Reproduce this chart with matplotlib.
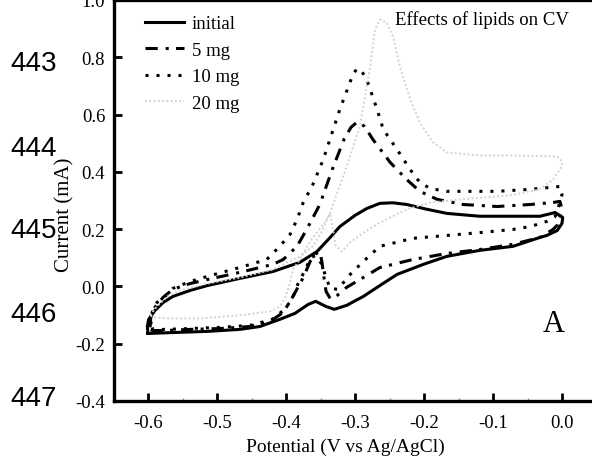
import matplotlib
matplotlib.use("Agg")
import matplotlib.pyplot as plt
from matplotlib.ticker import MultipleLocator

# ---------------- data ----------------
initial_potential = [-0.600, -0.601, -0.599, -0.590, -0.578, -0.564, -0.539, -0.514, -0.467, -0.419,
                     -0.380, -0.355, -0.336, -0.322, -0.300, -0.283, -0.264, -0.245, -0.225, -0.197,
                     -0.167, -0.119, -0.071, -0.032, -0.010, 0.001, 0.000, -0.007,
                     -0.022, -0.032, -0.071, -0.119, -0.167, -0.201, -0.239, -0.264, -0.288, -0.312,
                     -0.330, -0.342, -0.357, -0.368, -0.387, -0.409, -0.438, -0.467, -0.514, -0.564,
                     -0.597, -0.600]
initial_current = [-0.164, -0.140, -0.115, -0.084, -0.056, -0.035, -0.014, 0.003, 0.028, 0.052,
                   0.084, 0.122, 0.171, 0.209, 0.248, 0.272, 0.290, 0.292, 0.286, 0.270,
                   0.255, 0.245, 0.245, 0.245, 0.258, 0.241, 0.220, 0.195,
                   0.178, 0.171, 0.140, 0.126, 0.105, 0.077, 0.042, 0.003, -0.035, -0.066,
                   -0.080, -0.070, -0.052, -0.063, -0.094, -0.115, -0.140, -0.150, -0.157, -0.161,
                   -0.164, -0.164]

mg5_potential = [-0.597, -0.596, -0.590, -0.578, -0.564, -0.539, -0.514, -0.467, -0.419, -0.404,
                 -0.384, -0.370, -0.351, -0.333, -0.316, -0.306, -0.296, -0.286, -0.274, -0.249,
                 -0.225, -0.206, -0.181, -0.143, -0.094, -0.046, -0.013, -0.003, -0.001, -0.003,
                 -0.006, -0.013, -0.032, -0.071, -0.119, -0.167, -0.216, -0.264, -0.288, -0.312,
                 -0.322, -0.329, -0.336, -0.342, -0.345, -0.348, -0.351, -0.358, -0.365, -0.375,
                 -0.390, -0.404, -0.423, -0.452, -0.496, -0.539, -0.575, -0.594, -0.597]
mg5_current = [-0.143, -0.108, -0.073, -0.038, -0.010, 0.010, 0.024, 0.049, 0.077, 0.094,
               0.140, 0.199, 0.286, 0.408, 0.513, 0.555, 0.576, 0.558, 0.513, 0.433,
               0.373, 0.332, 0.304, 0.286, 0.279, 0.286, 0.293, 0.297, 0.279, 0.244,
               0.216, 0.199, 0.171, 0.147, 0.129, 0.115, 0.094, 0.066, 0.031, -0.003,
               -0.024, -0.038, -0.042, -0.017, 0.031, 0.087, 0.122, 0.112, 0.087, 0.031,
               -0.035, -0.091, -0.122, -0.140, -0.147, -0.150, -0.154, -0.154, -0.143]

mg10_potential = [-0.596, -0.594, -0.587, -0.572, -0.564, -0.539, -0.514, -0.467, -0.428, -0.409,
                  -0.394, -0.384, -0.375, -0.361, -0.346, -0.333, -0.322, -0.310, -0.303, -0.297,
                  -0.290, -0.283, -0.268, -0.259, -0.249, -0.239, -0.220, -0.206, -0.191, -0.167,
                  -0.094, -0.046, -0.003, 0.000, -0.003,
                  -0.010, -0.022, -0.046, -0.071, -0.119, -0.167, -0.216, -0.264, -0.288, -0.307,
                  -0.319, -0.325, -0.336, -0.342, -0.348, -0.357, -0.364, -0.372, -0.383, -0.391,
                  -0.404, -0.420, -0.452, -0.496, -0.539, -0.575, -0.593, -0.596]
mg10_current = [-0.133, -0.091, -0.056, -0.028, -0.007, 0.017, 0.035, 0.066, 0.094, 0.140,
                0.182, 0.234, 0.293, 0.356, 0.443, 0.538, 0.618, 0.695, 0.740, 0.761,
                0.750, 0.723, 0.618, 0.548, 0.513, 0.478, 0.408, 0.363, 0.342, 0.332,
                0.332, 0.339, 0.349, 0.321, 0.293,
                0.244, 0.227, 0.209, 0.199, 0.188, 0.178, 0.168, 0.140, 0.087, 0.042,
                0.007, -0.010, -0.007, 0.031, 0.077, 0.108, 0.101, 0.059, 0.007, -0.045,
                -0.084, -0.115, -0.136, -0.143, -0.147, -0.150, -0.150, -0.133]

mg20_potential = [-0.597, -0.594, -0.587, -0.572, -0.554, -0.514, -0.467, -0.419, -0.380, -0.361,
                  -0.348, -0.336, -0.312, -0.293, -0.278, -0.271, -0.264, -0.254, -0.245, -0.235,
                  -0.220, -0.206, -0.187, -0.167, -0.119, -0.071, -0.007, 0.000, 0.000,
                  -0.013, -0.032, -0.075, -0.133, -0.191, -0.225, -0.249, -0.274, -0.293, -0.307,
                  -0.319, -0.328, -0.332, -0.336, -0.343, -0.354, -0.365, -0.380, -0.390, -0.394,
                  -0.401, -0.409, -0.423, -0.467, -0.525, -0.568, -0.590, -0.597]
mg20_current = [-0.101, -0.091, -0.070, -0.035, -0.014, 0.010, 0.031, 0.059, 0.105, 0.140,
                0.192, 0.258, 0.419, 0.558, 0.768, 0.897, 0.932, 0.921, 0.873, 0.768,
                0.653, 0.572, 0.503, 0.468, 0.457, 0.457, 0.454, 0.436, 0.419,
                0.373, 0.339, 0.318, 0.307, 0.293, 0.269, 0.241, 0.209, 0.178, 0.154,
                0.122, 0.143, 0.199, 0.255, 0.227, 0.192, 0.157, 0.094, 0.059, 0.014,
                -0.038, -0.070, -0.087, -0.101, -0.112, -0.112, -0.108, -0.101]

series_labels = ["initial", "5 mg", "10 mg", "20 mg"]
x_ticks = [-0.6, -0.5, -0.4, -0.3, -0.2, -0.1, 0.0]
y_ticks = [-0.4, -0.2, 0.0, 0.2, 0.4, 0.6, 0.8, 1.0]
line_numbers = ["443", "444", "445", "446", "447"]
line_number_y = [64, 149, 231, 315, 399]   # pixel rows of the margin numbers

# ---------------- figure ----------------
plt.rcParams["axes.unicode_minus"] = False
serif = ["Liberation Serif", "DejaVu Serif"]

W, H = 592, 464
fig = plt.figure(figsize=(W / 100, H / 100), dpi=100)
ax_left, ax_right, ax_top, ax_bottom = 113.5, 596.5, 1.0, 402.0
ax = fig.add_axes([ax_left / W, 1 - ax_bottom / H, (ax_right - ax_left) / W, (ax_bottom - ax_top) / H])

ax.plot(initial_potential, initial_current, color="black", lw=2.2, ls="-",
        solid_joinstyle="round", label=series_labels[0])
ax.plot(mg5_potential, mg5_current, color="black", lw=2.2, ls=(0, (4, 2.6, 1, 2.4)),
        dash_capstyle="butt", label=series_labels[1])
ax.plot(mg10_potential, mg10_current, color="black", lw=2.2, ls=(0, (1, 2.6)),
        dash_capstyle="butt", label=series_labels[2])
ax.plot(mg20_potential, mg20_current, color="#d2d2d2", lw=1.4, ls=(0, (1, 1.2)),
        label=series_labels[3])

ax.set_xlim(-0.65, 0.05)
ax.set_ylim(-0.4, 1.0)
ax.set_xticks(x_ticks)
ax.set_yticks(y_ticks)
ax.set_xticklabels([f"{v:.1f}" for v in x_ticks], fontfamily=serif, fontsize=13.5)
ax.set_yticklabels([f"{v:.1f}" for v in y_ticks], fontfamily=serif, fontsize=13.5)
ax.xaxis.set_minor_locator(MultipleLocator(0.05))
ax.tick_params(axis="both", which="major", direction="in", length=6, width=2.0)
ax.tick_params(axis="x", which="major", pad=9)
ax.tick_params(axis="y", which="major", pad=6)
ax.tick_params(axis="x", which="minor", direction="in", length=2.5, width=1.0, color="#999999")
ax.tick_params(axis="y", which="minor", left=False)
for s in ax.spines.values():
    s.set_linewidth(2.4)

fig.text(345 / W, 1 - 447 / H, "Potential (V vs Ag/AgCl)",
         ha="center", va="center", fontfamily=serif, fontsize=14)
fig.text(65 / W, 1 - 215 / H, "Current (mA)", rotation=90, ha="center", va="center",
         fontfamily=serif, fontsize=15)

leg = ax.legend(loc="upper left", bbox_to_anchor=(0.065, 0.962), frameon=False,
                prop={"family": serif, "size": 13.5}, handlelength=2.1, handletextpad=0.4,
                labelspacing=0.5, borderpad=0, borderaxespad=0)

ax.text((395 - ax_left) / (ax_right - ax_left), 1 - 19 / (ax_bottom - ax_top),
        "Effects of lipids on CV", transform=ax.transAxes, ha="left", va="center",
        fontfamily=serif, fontsize=13.5)
ax.text((554 - ax_left) / (ax_right - ax_left), (ax_bottom - 325) / (ax_bottom - ax_top), "A",
        transform=ax.transAxes, ha="center", va="center", fontfamily=serif, fontsize=22)

for lab, yy in zip(line_numbers, line_number_y):
    fig.text(10 / W, 1 - yy / H, lab, ha="left", va="center",
             fontfamily=["Liberation Sans", "DejaVu Sans"], fontsize=20)

fig.savefig("out.png", dpi=100)
